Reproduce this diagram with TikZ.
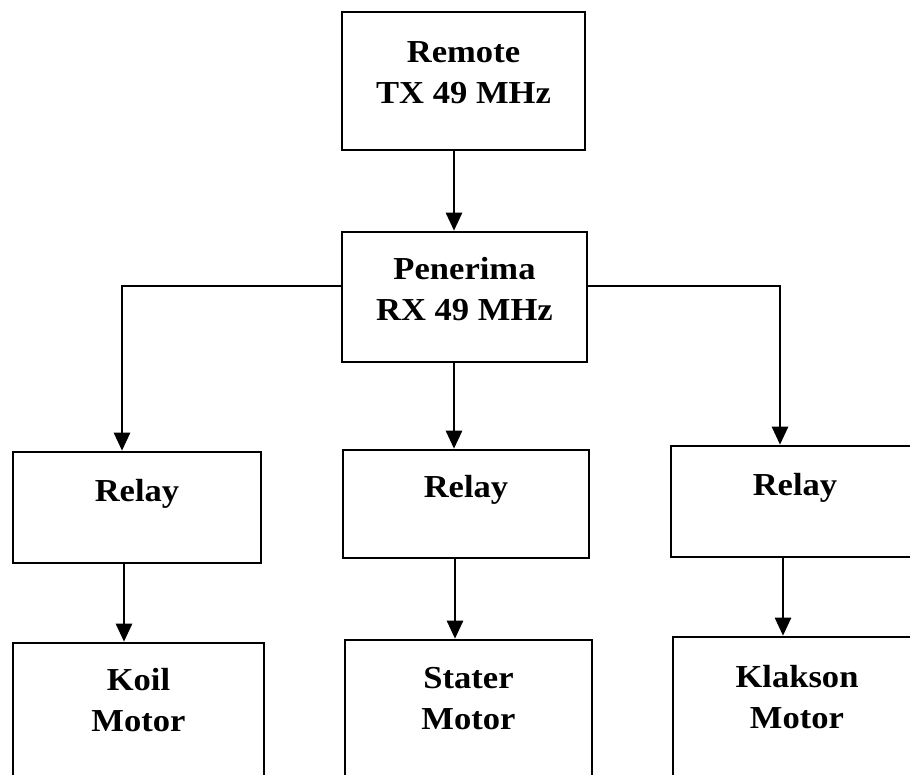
\documentclass[tikz,border=0pt]{standalone}
\usepackage{fontspec}
\setmainfont{Liberation Serif}[FakeStretch=1.08]
\usetikzlibrary{arrows.meta,positioning}
\tikzset{
  ar/.style={-{Triangle[length=18pt,width=16pt]},line width=2.6pt},
  box/.style={draw,line width=2.6pt,align=center,inner sep=0pt,
    font=\fontsize{32}{41}\selectfont\bfseries,text depth=16pt},
  relaybox/.style={box,text depth=35pt},
  motorbox/.style={box,text depth=44pt}
}
\begin{document}
\begin{tikzpicture}[x=1pt,y=-1pt]
\clip (0,0) rectangle (910,775);
% pemancar dan penerima
\node[box,minimum width=243pt,minimum height=138pt] (tx) at (463.5,81) {Remote\\TX 49 MHz};
\node[box,minimum width=245pt,minimum height=130pt] (rx) at (464.5,297) {Penerima\\RX 49 MHz};
% relay
\node[relaybox,minimum width=248pt,minimum height=111pt] (relay1) at (137,507.5) {Relay};
\node[relaybox,minimum width=246pt,minimum height=108pt] (relay2) at (466,504) {Relay};
\node[relaybox,minimum width=248pt,minimum height=111pt] (relay3) at (795,501.5) {Relay};
% beban
\node[motorbox,minimum width=251pt,minimum height=157pt] (koil) at (138.5,721.5) {Koil\\Motor};
\node[motorbox,minimum width=247pt,minimum height=160pt] (stater) at (468.5,720) {Stater\\Motor};
\node[motorbox,minimum width=248pt,minimum height=163pt] (klakson) at (797,718.5) {Klakson\\Motor};
% jalur
\coordinate (c1) at (122,286);
\coordinate (c2) at (454,286);
\coordinate (c3) at (780,286);
\coordinate (d1) at (124,600);
\coordinate (d2) at (455,600);
\coordinate (d3) at (783,600);
\draw[ar] (tx.south -| c2) -- (rx.north -| c2);
\draw[ar] (rx.west |- c1) -| (relay1.north -| c1);
\draw[ar] (rx.south -| c2) -- (relay2.north -| c2);
\draw[ar] (rx.east |- c3) -| (relay3.north -| c3);
\draw[ar] (relay1.south -| d1) -- (koil.north -| d1);
\draw[ar] (relay2.south -| d2) -- (stater.north -| d2);
\draw[ar] (relay3.south -| d3) -- (klakson.north -| d3);
\end{tikzpicture}
\end{document}
